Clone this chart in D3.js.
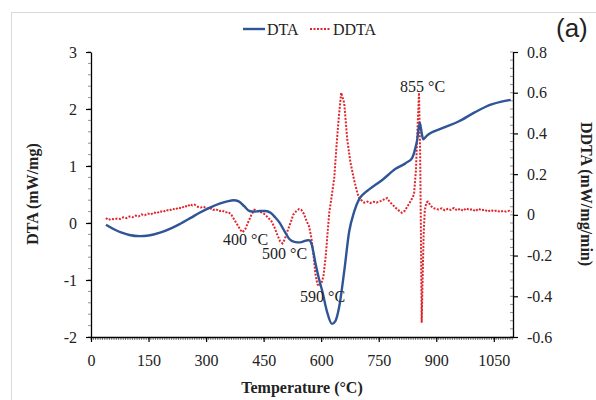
<!DOCTYPE html>
<html>
<head>
<meta charset="utf-8">
<script src="https://cdn.jsdelivr.net/npm/d3@7"></script>
<style>
  body { margin: 0; background: #fff; }
  text { font-family: "Liberation Serif", "Times New Roman", serif; fill: #222; }
</style>
</head>
<body>
<div id="chart"></div>
<script>
// DTA curve (mW/mg) vs temperature (°C)
var dtaTemp = [39, 60, 80, 100, 127, 150, 180, 210, 231, 260, 283, 310, 335, 355, 372, 385, 400, 413, 425, 440,
               455, 468, 480, 491, 505, 517, 530, 545, 560, 568, 575, 585, 595, 603, 615, 628, 637, 647, 660, 673,
               686, 699, 712, 725, 760, 794, 820, 837, 845, 850, 857, 862, 866, 875, 914, 958, 1000, 1044, 1070, 1094];
var dtaVal  = [-0.03, -0.11, -0.17, -0.21, -0.23, -0.22, -0.17, -0.09, -0.02, 0.09, 0.18, 0.27, 0.34, 0.38, 0.40, 0.38, 0.29, 0.21, 0.20, 0.21,
               0.21, 0.18, 0.10, 0.01, -0.15, -0.28, -0.33, -0.34, -0.31, -0.30, -0.37, -0.70, -1.00, -1.20, -1.55, -1.77, -1.72, -1.47, -0.85, -0.15,
               0.20, 0.42, 0.52, 0.59, 0.76, 0.95, 1.05, 1.14, 1.30, 1.45, 1.76, 1.58, 1.47, 1.53, 1.66, 1.78, 1.94, 2.08, 2.13, 2.16];

// DDTA curve (mW/mg/min) vs temperature (°C)
var ddtaTemp = [39, 45, 52, 60, 68, 76, 84, 92, 100, 108, 116, 124, 132, 140, 148, 156, 164, 172, 180, 188,
                196, 204, 212, 220, 228, 236, 244, 252, 258, 264, 270, 278, 286, 294, 302, 310, 318, 326, 334, 342,
                350, 358, 366, 374, 382, 390, 395, 402, 410, 418, 426, 432, 440, 447, 455, 462, 470, 478, 486, 493,
                499, 505, 512, 520, 527, 535, 542, 548, 555, 562, 569, 575, 580, 585, 590, 595, 600, 606, 612, 617,
                621, 628, 634, 640, 645, 652, 660, 668, 676, 686, 694, 699, 706, 712, 720, 728, 736, 744, 752, 760,
                766, 772, 778, 786, 794, 802, 810, 818, 826, 834, 842, 847, 851, 855, 858, 860, 862, 864, 867, 870,
                874, 878, 884, 890, 898, 906, 914, 922, 930, 938, 946, 954, 962, 970, 978, 986, 994, 1002, 1010, 1018,
                1026, 1034, 1042, 1050, 1058, 1066, 1074, 1082, 1090, 1096];
var ddtaVal  = [-0.015, -0.025, -0.02, -0.022, -0.018, -0.02, -0.012, -0.016, -0.008, -0.012, -0.004, -0.008, 0.002, -0.002, 0.006, 0.002, 0.012, 0.008, 0.018, 0.014,
                0.024, 0.02, 0.03, 0.026, 0.036, 0.032, 0.044, 0.04, 0.052, 0.046, 0.05, 0.04, 0.036, 0.04, 0.03, 0.034, 0.024, 0.028, 0.018, 0.022,
                0.012, 0.014, 0.0, -0.025, -0.05, -0.075, -0.085, -0.07, -0.035, 0.0, 0.025, 0.02, 0.015, 0.01, 0.0, -0.015, -0.03, -0.06, -0.1, -0.13,
                -0.14, -0.12, -0.08, -0.04, 0.0, 0.018, 0.028, 0.025, 0.005, -0.03, -0.06, -0.12, -0.2, -0.29, -0.34, -0.35, -0.34, -0.3, -0.2, -0.08,
                0.01, 0.1, 0.18, 0.34, 0.46, 0.60, 0.55, 0.37, 0.26, 0.17, 0.11, 0.08, 0.07, 0.06, 0.065, 0.058, 0.064, 0.06, 0.066, 0.07,
                0.08, 0.082, 0.065, 0.05, 0.035, 0.022, 0.01, 0.02, 0.045, 0.07, 0.1, 0.22, 0.42, 0.6, 0.3, -0.1, -0.53, -0.35, -0.1, 0.02,
                0.06, 0.065, 0.05, 0.035, 0.03, 0.026, 0.032, 0.022, 0.03, 0.024, 0.034, 0.022, 0.03, 0.02, 0.032, 0.024, 0.028, 0.018, 0.03, 0.022,
                0.026, 0.016, 0.024, 0.018, 0.022, 0.014, 0.02, 0.016, 0.02, 0.015];

var xTicks = [0, 150, 300, 450, 600, 750, 900, 1050];
var leftTicks = [-2, -1, 0, 1, 2, 3];
var rightTicks = [-0.6, -0.4, -0.2, 0, 0.2, 0.4, 0.6, 0.8];
var notes = [{t: "400 °C", x: 223, y: 245}, {t: "500 °C", x: 262, y: 259},
             {t: "590 °C", x: 300, y: 302}, {t: "855 °C", x: 400, y: 92}];

var W = 596, H = 400;
var plotLeft = 91, plotRight = 513, plotTop = 52, plotBottom = 337;

var svg = d3.select("#chart").append("svg")
    .attr("width", W).attr("height", H);

// outer frame
svg.append("rect")
    .attr("x", 11.5).attr("y", 12.5)
    .attr("width", W).attr("height", H)
    .attr("fill", "none").attr("stroke", "#d9d9d9");

var x = d3.scaleLinear().domain([0, 1100]).range([plotLeft, plotRight]);
var yL = d3.scaleLinear().domain([-2, 3]).range([plotBottom, plotTop]);
var yR = d3.scaleLinear().domain([-0.6, 0.8]).range([plotBottom, plotTop]);

// minor ticks
var xMinor = d3.range(0, 1101, 6);
var lMinor = d3.range(-2, 3.001, 0.2);
var rMinor = d3.range(-0.6, 0.801, 0.04);

svg.append("g").selectAll("line").data(xMinor).join("line")
    .attr("x1", d => x(d)).attr("x2", d => x(d))
    .attr("y1", plotBottom).attr("y2", plotBottom + 3)
    .attr("stroke", "#555").attr("stroke-width", 0.8);
svg.append("g").selectAll("line").data(lMinor).join("line")
    .attr("x1", plotLeft - 3).attr("x2", plotLeft)
    .attr("y1", d => yL(d)).attr("y2", d => yL(d))
    .attr("stroke", "#777").attr("stroke-width", 0.8);
svg.append("g").selectAll("line").data(rMinor).join("line")
    .attr("x1", plotRight - 3).attr("x2", plotRight)
    .attr("y1", d => yR(d)).attr("y2", d => yR(d))
    .attr("stroke", "#777").attr("stroke-width", 0.8);

// hyphen instead of unicode minus, as in the original
var hy = f => (d => f(d).replace("\u2212", "-"));

// x axis
var xAxis = svg.append("g")
    .attr("transform", "translate(0," + plotBottom + ")")
    .call(d3.axisBottom(x).tickValues(xTicks).tickSize(5).tickPadding(13).tickSizeOuter(0)
          .tickFormat(d3.format("d")));
// left axis
var lAxis = svg.append("g")
    .attr("transform", "translate(" + plotLeft + ",0)")
    .call(d3.axisLeft(yL).tickValues(leftTicks).tickSize(5).tickPadding(9).tickSizeOuter(0)
          .tickFormat(hy(d3.format("d"))));
// right axis
var rAxis = svg.append("g")
    .attr("transform", "translate(" + plotRight + ",0)")
    .call(d3.axisRight(yR).tickValues(rightTicks).tickSize(5).tickPadding(9).tickSizeOuter(0)
          .tickFormat(d => d === 0 ? "0" : hy(d3.format(".1f"))(d)));

[xAxis, lAxis, rAxis].forEach(function(a) {
    a.attr("font-family", "Liberation Serif").attr("font-size", 16);
    a.selectAll("path").attr("stroke", "#000").attr("stroke-width", 1.3);
    a.selectAll("line").attr("stroke", "#000").attr("stroke-width", 1.2);
    a.selectAll("text").style("font-family", "Liberation Serif").style("font-size", "16px").attr("fill", "#222");
});

// curves
var dtaLine = d3.line().x(d => x(d[0])).y(d => yL(d[1])).curve(d3.curveMonotoneX);
var ddtaLine = d3.line().x(d => x(d[0])).y(d => yR(d[1])).curve(d3.curveLinear);

svg.append("path")
    .datum(ddtaTemp.map((t, i) => [t, ddtaVal[i]]))
    .attr("d", ddtaLine)
    .attr("fill", "none").attr("stroke", "#e0252b")
    .attr("stroke-width", 2).attr("stroke-dasharray", "2,1.5");

svg.append("path")
    .datum(dtaTemp.map((t, i) => [t, dtaVal[i]]))
    .attr("d", dtaLine)
    .attr("fill", "none").attr("stroke", "#2f5597")
    .attr("stroke-width", 2.4);

// annotations
svg.append("g").selectAll("text").data(notes).join("text")
    .attr("x", d => d.x).attr("y", d => d.y)
    .style("font-size", "16px")
    .text(d => d.t);

// axis titles
svg.append("text")
    .attr("transform", "translate(38,194) rotate(-90)")
    .attr("text-anchor", "middle")
    .style("font-size", "16px").style("font-weight", "bold")
    .text("DTA (mW/mg)");
svg.append("text")
    .attr("transform", "translate(581,194) rotate(90)")
    .attr("text-anchor", "middle")
    .style("font-size", "16px").style("font-weight", "bold")
    .text("DDTA (mW/mg/min)");
svg.append("text")
    .attr("x", 302).attr("y", 393)
    .attr("text-anchor", "middle")
    .style("font-size", "16px").style("font-weight", "bold")
    .text("Temperature (°C)");

// legend
svg.append("line").attr("x1", 243).attr("x2", 265).attr("y1", 29).attr("y2", 29)
    .attr("stroke", "#2f5597").attr("stroke-width", 2.4);
svg.append("text").attr("x", 267).attr("y", 35).style("font-size", "16px").text("DTA");
svg.append("line").attr("x1", 310).attr("x2", 330).attr("y1", 29).attr("y2", 29)
    .attr("stroke", "#e0252b").attr("stroke-width", 2).attr("stroke-dasharray", "2,1.5");
svg.append("text").attr("x", 333).attr("y", 35).style("font-size", "16px").text("DDTA");

// panel label
svg.append("text").attr("x", 556).attr("y", 37)
    .style("font-family", "Liberation Sans").style("font-size", "26px")
    .text("(a)");
</script>
</body>
</html>
